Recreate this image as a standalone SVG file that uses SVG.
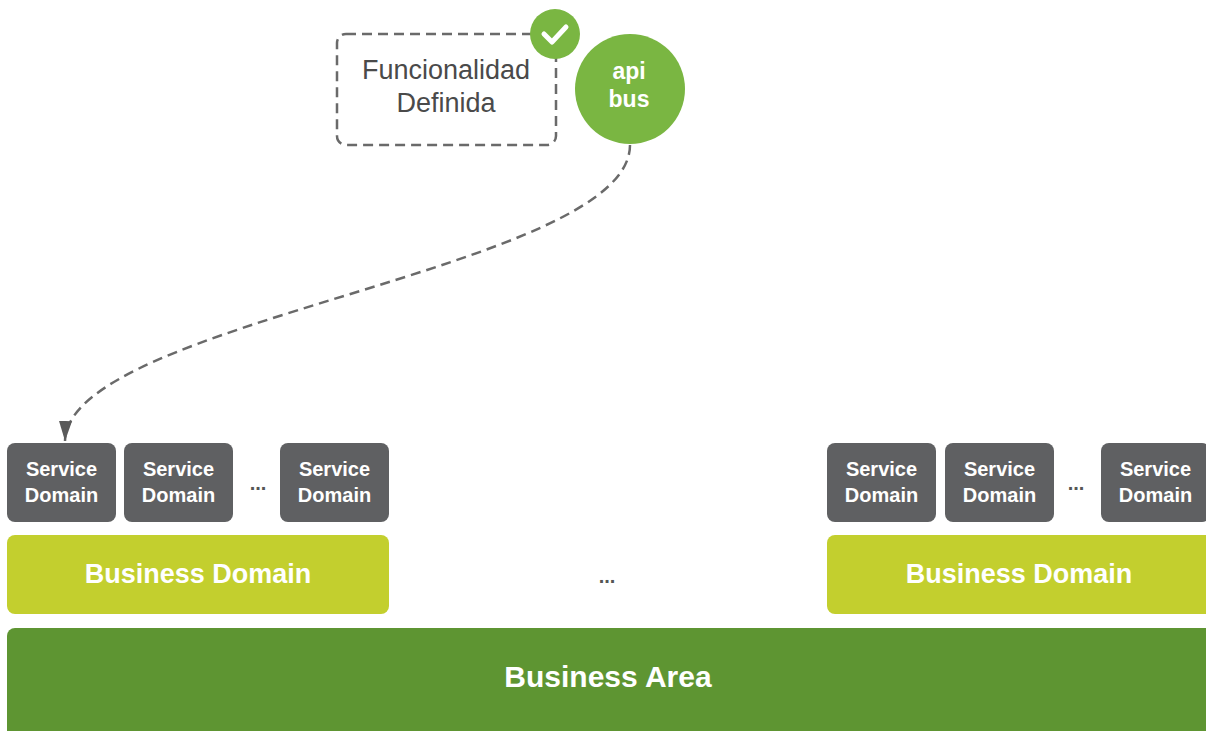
<svg xmlns="http://www.w3.org/2000/svg" width="1206" height="731" viewBox="0 0 1206 731">
<defs>
<style>
.sd{fill:#5f6062}
.sdt{font-family:"Liberation Sans",Arial,sans-serif;font-weight:bold;font-size:20px;fill:#ffffff;text-anchor:middle}
.bd{fill:#c3cf2e}
.bdt{font-family:"Liberation Sans",Arial,sans-serif;font-weight:bold;font-size:27px;fill:#ffffff;text-anchor:middle}
.dots{font-family:"Liberation Sans",Arial,sans-serif;font-weight:bold;font-size:20px;fill:#555555;text-anchor:middle}
.conn{fill:none;stroke:#6a6a6a;stroke-width:2.5;stroke-dasharray:10 6}
</style>
<marker id="arrow" markerWidth="20" markerHeight="13" refX="10" refY="5" orient="auto" markerUnits="userSpaceOnUse" viewBox="0 0 10 10" preserveAspectRatio="none">
<path d="M0,0 L10,5 L0,10 z" fill="#5a5a5a"/>
</marker>
</defs>
<rect width="1206" height="731" fill="#ffffff"/>

<g id="funcionalidad">
<rect x="337" y="34" width="219" height="111" rx="9" fill="none" stroke="#6a6a6a" stroke-width="2.5" stroke-dasharray="10 6"/>
<text x="446" y="79" font-family="Liberation Sans, Arial, sans-serif" font-size="27" fill="#4a4a4a" text-anchor="middle">Funcionalidad</text>
<text x="446" y="112" font-family="Liberation Sans, Arial, sans-serif" font-size="27" fill="#4a4a4a" text-anchor="middle">Definida</text>
</g>

<g id="check">
<circle cx="555" cy="34" r="25" fill="#7ab642"/>
<polyline points="544,34 552,42 566,27" fill="none" stroke="#ffffff" stroke-width="5" stroke-linecap="round" stroke-linejoin="round"/>
</g>

<g id="apibus">
<circle cx="630" cy="89" r="55" fill="#7ab642"/>
<text x="629" y="79" font-family="Liberation Sans, Arial, sans-serif" font-weight="bold" font-size="23" fill="#ffffff" text-anchor="middle">api</text>
<text x="629" y="107" font-family="Liberation Sans, Arial, sans-serif" font-weight="bold" font-size="23" fill="#ffffff" text-anchor="middle">bus</text>
</g>

<g id="connectors">
<path class="conn" d="M630,145 C630,270 68,320 65,441" marker-end="url(#arrow)"/>
</g>

<g id="sd1"><rect class="sd" x="7" y="443" width="109" height="79" rx="8"/><text class="sdt" x="61.5" y="476">Service</text><text class="sdt" x="61.5" y="502">Domain</text></g>
<g id="sd2"><rect class="sd" x="124" y="443" width="109" height="79" rx="8"/><text class="sdt" x="178.5" y="476">Service</text><text class="sdt" x="178.5" y="502">Domain</text></g>
<g id="dots1"><text class="dots" x="258" y="490">...</text></g>
<g id="sd3"><rect class="sd" x="280" y="443" width="109" height="79" rx="8"/><text class="sdt" x="334.5" y="476">Service</text><text class="sdt" x="334.5" y="502">Domain</text></g>

<g id="sd4"><rect class="sd" x="827" y="443" width="109" height="79" rx="8"/><text class="sdt" x="881.5" y="476">Service</text><text class="sdt" x="881.5" y="502">Domain</text></g>
<g id="sd5"><rect class="sd" x="945" y="443" width="109" height="79" rx="8"/><text class="sdt" x="999.5" y="476">Service</text><text class="sdt" x="999.5" y="502">Domain</text></g>
<g id="dots2"><text class="dots" x="1076" y="490">...</text></g>
<g id="sd6"><rect class="sd" x="1101" y="443" width="109" height="79" rx="8"/><text class="sdt" x="1155.5" y="476">Service</text><text class="sdt" x="1155.5" y="502">Domain</text></g>

<g id="bd1"><rect class="bd" x="7" y="535" width="382" height="79" rx="8"/><text class="bdt" x="198" y="583">Business Domain</text></g>
<g id="dots3"><text class="dots" x="607" y="583">...</text></g>
<g id="bd2"><rect class="bd" x="827" y="535" width="390" height="79" rx="8"/><text class="bdt" x="1019" y="583">Business Domain</text></g>

<g id="ba"><rect x="7" y="628" width="1210" height="120" rx="8" fill="#5e9532"/><text x="608" y="687" font-family="Liberation Sans, Arial, sans-serif" font-weight="bold" font-size="30" fill="#ffffff" text-anchor="middle">Business Area</text></g>
</svg>
